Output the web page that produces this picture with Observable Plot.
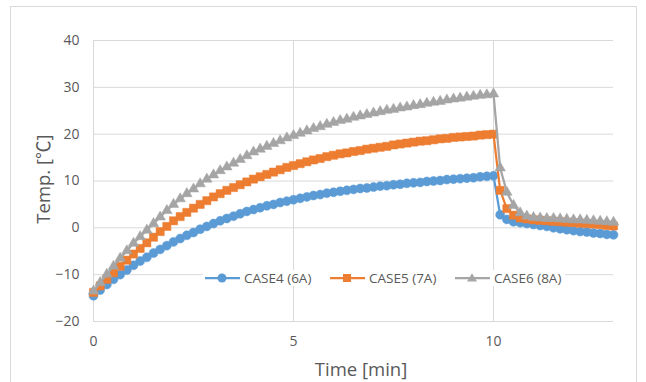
<!DOCTYPE html>
<html>
<head>
<meta charset="utf-8">
<script src="https://cdn.jsdelivr.net/npm/d3@7"></script>
<script src="https://cdn.jsdelivr.net/npm/@observablehq/plot@0.6"></script>
<style>
  body { margin: 0; background: #fff; }
  #wrap { position: relative; width: 646px; height: 382px; overflow: hidden; font-family: "Open Sans", Lato, "Noto Sans CJK KR", sans-serif; color: #595959; }
  #frame { position: absolute; left: 10px; top: 6px; width: 627px; height: 392px; border: 1px solid #d9d9d9; box-sizing: border-box; }
  #chart { position: absolute; left: 0; top: 0; }
  .title { position: absolute; font-size: 18.5px; white-space: nowrap; color: #595959; }
  #ytitle { left: 42px; top: 179px; transform: translate(-50%, -50%) rotate(-90deg); }
  #xtitle { left: 361px; top: 368px; transform: translate(-50%, -50%); }
  #legend { position: absolute; left: 203px; top: 270px; width: 362px; height: 16px; background: #fff; }
  .item { position: absolute; top: 0; height: 16px; display: flex; align-items: center; font-size: 13.5px; white-space: nowrap; }
  .item svg { margin-right: 4px; }
</style>
</head>
<body>
<div id="wrap">
  <div id="frame"></div>
  <div id="chart"></div>
  <div class="title" id="ytitle">Temp. [℃]</div>
  <div class="title" id="xtitle">Time [min]</div>
  <div id="legend"></div>
</div>
<script>
// ---- data (time in seconds, temperatures in °C) ----
const seconds = [0,10,20,30,40,50,60,70,80,90,100,110,120,130,140,150,160,170,180,190,200,210,220,230,240,250,260,270,280,290,300,310,320,330,340,350,360,370,380,390,400,410,420,430,440,450,460,470,480,490,500,510,520,530,540,550,560,570,580,590,600,610,620,630,640,650,660,670,680,690,700,710,720,730,740,750,760,770,780];

const case4 = [-14.5,-13.3,-12.1,-11.0,-10.0,-9.0,-8.0,
  -7.1,-6.3,-5.4,-4.6,-3.8,-3.0,
  -2.3,-1.6,-1.0,-0.3,0.3,0.9,
  1.5,2.0,2.5,3.0,3.5,3.9,
  4.3,4.7,5.0,5.4,5.7,6.0,
  6.3,6.6,6.9,7.1,7.4,7.6,
  7.8,8.0,8.2,8.4,8.5,8.7,
  8.9,9.0,9.2,9.3,9.5,9.6,
  9.7,9.9,10.0,10.1,10.3,10.4,
  10.5,10.6,10.7,10.9,11.0,11.1,
  2.8,1.8,1.3,1.1,0.9,0.7,0.5,0.3,0.0,-0.2,-0.4,-0.6,-0.8,-0.9,-1.1,-1.2,-1.4,-1.5];

const case5 = [-13.8,-12.4,-11.0,-9.6,-8.2,-6.9,-5.6,
  -4.4,-3.2,-2.0,-0.8,0.3,1.5,
  2.4,3.3,4.2,5.0,5.8,6.6,
  7.3,8.0,8.6,9.2,9.8,10.4,
  10.9,11.4,11.9,12.4,12.9,13.3,
  13.7,14.1,14.5,14.8,15.2,15.5,
  15.8,16.0,16.3,16.5,16.8,17.0,
  17.2,17.4,17.7,17.9,18.1,18.3,
  18.5,18.6,18.8,19.0,19.1,19.3,
  19.4,19.5,19.6,19.8,19.9,20.0,
  8.0,4.1,2.7,2.1,1.9,1.7,1.6,1.5,1.4,1.3,1.2,1.1,1.0,0.9,0.8,0.7,0.5,0.4];

const case6 = [-13.5,-11.7,-9.9,-8.2,-6.5,-4.9,-3.3,
  -1.9,-0.5,0.9,2.3,3.7,5.0,
  6.2,7.3,8.3,9.4,10.4,11.3,
  12.2,13.0,13.8,14.6,15.4,16.2,
  16.8,17.4,18.0,18.6,19.2,19.7,
  20.2,20.7,21.2,21.6,22.1,22.5,
  22.9,23.2,23.6,23.9,24.2,24.5,
  24.8,25.1,25.3,25.6,25.8,26.1,
  26.3,26.6,26.8,27.0,27.3,27.5,
  27.7,27.9,28.1,28.3,28.4,28.6,
  12.8,7.6,4.8,3.2,2.5,2.2,2.1,2.0,2.0,1.9,1.8,1.7,1.7,1.6,1.5,1.4,1.3,1.2];

const seriesNames = ["CASE4 (6A)", "CASE5 (7A)", "CASE6 (8A)"];
const xTicks = [0, 5, 10];
const yTicks = [-20, -10, 0, 10, 20, 30, 40];

// ---- build tables ----
const colors = ["#5B9BD5", "#ED7D31", "#A5A5A5"];
const symbols = ["circle", "square", "triangle"];
const radii = [4.5, 4.6, 3.9];
const allSeries = [case4, case5, case6];
const tables = allSeries.map((vals, k) => seconds.map((s, i) => ({ t: s / 60, v: vals[i], name: seriesNames[k] })));

const marks = [
  Plot.gridY(yTicks, { stroke: "#d9d9d9", strokeOpacity: 1, strokeWidth: 1 }),
  Plot.gridX(xTicks, { stroke: "#d9d9d9", strokeOpacity: 1, strokeWidth: 1 }),
  Plot.axisX(xTicks, { tickSize: 0, tickPadding: 15, label: null, fill: "#595959" }),
  Plot.axisY(yTicks, { tickSize: 0, tickPadding: 14, label: null, fill: "#595959" })
];
tables.forEach((tb, k) => {
  marks.push(Plot.line(tb, { x: "t", y: "v", stroke: colors[k], strokeWidth: 2.25 }));
  marks.push(Plot.dot(tb, { x: "t", y: "v", symbol: symbols[k], r: radii[k], fill: colors[k], stroke: colors[k], strokeWidth: 0.5 }));
});

const chart = Plot.plot({
  width: 646,
  height: 382,
  marginLeft: 93,
  marginRight: 33,
  marginTop: 40,
  marginBottom: 61,
  x: { domain: [0, 13] },
  y: { domain: [-20, 40] },
  style: { fontFamily: '"Open Sans", Lato, sans-serif', fontSize: "14px", color: "#595959", background: "transparent", overflow: "visible" },
  marks
});
document.getElementById("chart").appendChild(chart);

// ---- legend ----
const legend = document.getElementById("legend");
const itemX = [2, 127, 252];
seriesNames.forEach((name, k) => {
  const item = document.createElement("div");
  item.className = "item";
  item.style.left = itemX[k] + "px";
  const c = colors[k];
  let marker;
  if (k === 0) marker = `<circle cx="17" cy="8" r="4.5" fill="${c}"/>`;
  else if (k === 1) marker = `<rect x="13" y="4" width="8" height="8" fill="${c}"/>`;
  else marker = `<path d="M17,3.2 L22,11.5 L12,11.5 Z" fill="${c}"/>`;
  item.innerHTML = `<svg width="35" height="16"><line x1="0" y1="8" x2="35" y2="8" stroke="${c}" stroke-width="2.25"/>${marker}</svg><span>${name}</span>`;
  legend.appendChild(item);
});
</script>
</body>
</html>
